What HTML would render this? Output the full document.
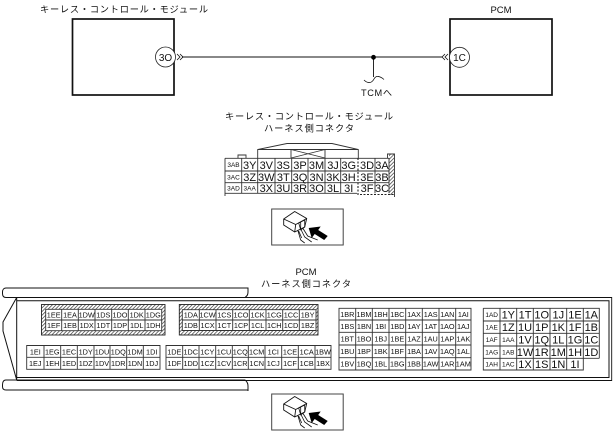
<!DOCTYPE html>
<html><head><meta charset="utf-8"><style>
html,body{margin:0;padding:0;background:#fff}
svg{display:block}
text{font-family:"Liberation Sans",sans-serif;fill:#111;text-anchor:middle}
.j{font-family:"Liberation Sans","Noto Sans CJK JP",sans-serif;font-size:9.2px}
.s{font-size:7.3px}
.t{font-size:6.5px}
.b{font-size:11px}
.m{font-size:10px}
.g{fill:none;stroke:#333;stroke-width:.9}
</style></head><body>
<svg width="613" height="436" viewBox="0 0 613 436" xmlns="http://www.w3.org/2000/svg">
<defs>
<pattern id="h" width="2.600" height="2.600" patternUnits="userSpaceOnUse" patternTransform="rotate(45)"><rect width="2.600" height="2.600" fill="#fff"/><rect width=".8" height="2.600" fill="#555"/></pattern>
<g id="ic">
<rect x="0" y="0" width="71.500" height="36" fill="#fff" stroke="#444" stroke-width="1"/>
<path d="M12 10L23 2.500L35 9.500L33 18L23 23L12 16Z M12 10L24 15.500L35 9.500 M24 15.500L23 23" fill="#fff" stroke="#111" stroke-width=".9"/>
<path d="M27 14L33 11L33 18L29 21Z M29 13V20 M26 21L29 31L33 34 M29 20L33 28L40 33 M31 19L36 27L46 31 M27 22L30 29" fill="none" stroke="#111" stroke-width=".8"/>
<path d="M37 19L49 17.500L46.500 21L56 27L52.500 31L43 25L40 29Z" fill="#000"/>
</g>
</defs>

<!-- top wiring -->
<rect x="72.500" y="19" width="101.500" height="76" fill="#fff" stroke="#111" stroke-width="1.700"/>
<rect x="450" y="19" width="102" height="76" fill="#fff" stroke="#111" stroke-width="1.700"/>
<path d="M182 57H442" stroke="#111" stroke-width=".9" fill="none"/>
<path d="M373.500 57V77" stroke="#111" stroke-width=".9" fill="none"/>
<circle cx="373.500" cy="57.300" r="2.400" fill="#000"/>
<path d="M364 80C368 84 372 83 374 79C376 75 380 76 384 79.500" fill="none" stroke="#111" stroke-width=".8"/>
<path d="M177 54L180 57L177 60M180 54L183 57L180 60" fill="none" stroke="#111" stroke-width=".8"/>
<path d="M445 54L442 57L445 60M448 54L445 57L448 60" fill="none" stroke="#111" stroke-width=".8"/>
<circle cx="165.500" cy="57" r="10" fill="#fff" stroke="#222" stroke-width=".8"/>
<circle cx="459.500" cy="57.300" r="10" fill="#fff" stroke="#222" stroke-width=".8"/>
<text x="165.500" y="61" class="m">3O</text>
<text x="459.500" y="61" class="m">1C</text>
<text x="124" y="12.500" class="j" textLength="168">キーレス・コントロール・モジュール</text>
<text x="501" y="13" style="font-size:9.500px">PCM</text>
<text x="376.500" y="96" class="j" textLength="31">TCMへ</text>

<!-- connector 1 -->
<text x="309" y="119.500" class="j" textLength="168">キーレス・コントロール・モジュール</text>
<text x="309" y="131.500" class="j" textLength="90">ハーネス側コネクタ</text>
<rect x="389" y="154" width="5" height="41" fill="url(#h)"/>
<path class="g" d="M225 158.300H389V193.300 M225 158.300V193.300 M225 171H389 M225 182.700H389 M225 193.300H357 M241.700 158.300V193.300 M257.700 158.300V193.300 M275 158.300V193.300 M291.700 158.300V193.300 M308 158.300V193.300 M325 158.300V193.300 M340.700 158.300V193.300 M375 158.300V193.300"/>
<path class="g" d="M238 158V155H246V158 M387.500 158V154H394.500V195 M225 193V196 M394.500 192V197 M257.700 158V149.500L287 143.500H332L358.300 149.500V158 M257.700 149.500H358.300 M291 149.500V158 M325 149.500V158 M291 149.500L325 158 M325 149.500L291 158"/>
<path d="M358 158V194.500H394" fill="none" stroke="#222" stroke-width="1.100" stroke-dasharray="2 1.500"/>
<g>
<text x="233.500" y="167" class="t">3AB</text><text x="249.700" y="168.800" class="b">3Y</text><text x="266.300" y="168.800" class="b">3V</text><text x="283.300" y="168.800" class="b">3S</text><text x="300" y="168.800" class="b">3P</text><text x="316.500" y="168.800" class="b">3M</text><text x="333" y="168.800" class="b">3J</text><text x="348.700" y="168.800" class="b">3G</text><text x="367" y="168.800" class="b">3D</text><text x="382" y="168.800" class="b">3A</text>
<text x="233.500" y="179.300" class="t">3AC</text><text x="249.700" y="181" class="b">3Z</text><text x="266.300" y="181" class="b">3W</text><text x="283.300" y="181" class="b">3T</text><text x="300" y="181" class="b">3Q</text><text x="316.500" y="181" class="b">3N</text><text x="333" y="181" class="b">3K</text><text x="348.700" y="181" class="b">3H</text><text x="367" y="181" class="b">3E</text><text x="382" y="181" class="b">3B</text>
<text x="233.500" y="190.500" class="t">3AD</text><text x="249.700" y="190.500" class="t">3AA</text><text x="266.300" y="192" class="b">3X</text><text x="283.300" y="192" class="b">3U</text><text x="300" y="192" class="b">3R</text><text x="316.500" y="192" class="b">3O</text><text x="333" y="192" class="b">3L</text><text x="348.700" y="192" class="b">3I</text><text x="367" y="192" class="b">3F</text><text x="382" y="192" class="b">3C</text>
</g>
<use href="#ic" x="271.700" y="209"/>

<!-- PCM -->
<text x="306" y="275" style="font-size:9.500px">PCM</text>
<text x="306" y="287" class="j" textLength="90">ハーネス側コネクタ</text>
<g fill="none" stroke="#111" stroke-width="1">
<path d="M248 287.500V292C248 295 247 296 245 297.500H6C3.500 297.500 2.500 296 2.500 293.500V292C2.500 290 3.500 288 6 288H248"/>
<path d="M248 391V386C248 383 247 381.500 245 380H6C3.500 380 2.500 382 2.500 385V386.500C2.500 388.500 3.500 390 6 390H248"/>
<path d="M16.700 297.500V380 M16.700 297.500L3 322V331L16.700 380"/>
<path d="M16.700 300.700H609V377.500H16.700"/>
<path d="M16.700 297.500H611.700V380.500H16.700" stroke-width=".9"/>
</g>

<!-- A -->
<rect x="41.500" y="304.500" width="123.500" height="30.500" fill="url(#h)" stroke="#222" stroke-width=".9"/>
<rect x="45.700" y="309.300" width="116" height="21.400" fill="#fff"/>
<path class="g" d="M45.700 309.300H161.700V330.700H45.700Z M45.700 320H161.700 M61.700 309.300V330.700 M78.300 309.300V330.700 M95 309.300V330.700 M111.700 309.300V330.700 M128.300 309.300V330.700 M145 309.300V330.700"/>
<text x="53.700" y="317.500" class="s">1EE</text><text x="70" y="317.500" class="s">1EA</text><text x="86.700" y="317.500" class="s">1DW</text><text x="103.300" y="317.500" class="s">1DS</text><text x="120" y="317.500" class="s">1DO</text><text x="136.700" y="317.500" class="s">1DK</text><text x="153.300" y="317.500" class="s">1DG</text>
<text x="53.700" y="328" class="s">1EF</text><text x="70" y="328" class="s">1EB</text><text x="86.700" y="328" class="s">1DX</text><text x="103.300" y="328" class="s">1DT</text><text x="120" y="328" class="s">1DP</text><text x="136.700" y="328" class="s">1DL</text><text x="153.300" y="328" class="s">1DH</text>

<!-- B -->
<rect x="179.300" y="304.500" width="138.700" height="30.500" fill="url(#h)" stroke="#222" stroke-width=".9"/>
<rect x="182.300" y="309.700" width="133.700" height="20.800" fill="#fff"/>
<path class="g" d="M182.300 309.700H316V330.500H182.300Z M182.300 320H316 M199.300 309.700V330.500 M216 309.700V330.500 M232.700 309.700V330.500 M249.300 309.700V330.500 M266 309.700V330.500 M282.700 309.700V330.500 M299.300 309.700V330.500"/>
<text x="190.800" y="317.500" class="s">1DA</text><text x="207.600" y="317.500" class="s">1CW</text><text x="224.300" y="317.500" class="s">1CS</text><text x="241" y="317.500" class="s">1CO</text><text x="257.600" y="317.500" class="s">1CK</text><text x="274.300" y="317.500" class="s">1CG</text><text x="291" y="317.500" class="s">1CC</text><text x="307.600" y="317.500" class="s">1BY</text>
<text x="190.800" y="328" class="s">1DB</text><text x="207.600" y="328" class="s">1CX</text><text x="224.300" y="328" class="s">1CT</text><text x="241" y="328" class="s">1CP</text><text x="257.600" y="328" class="s">1CL</text><text x="274.300" y="328" class="s">1CH</text><text x="291" y="328" class="s">1CD</text><text x="307.600" y="328" class="s">1BZ</text>

<!-- C -->
<path class="g" d="M26.700 345.500H160V369.300H26.700Z M26.700 357.300H160 M44 345.500V369.300 M60.700 345.500V369.300 M77.300 345.500V369.300 M94 345.500V369.300 M110 345.500V369.300 M126.700 345.500V369.300 M143.300 345.500V369.300"/>
<text x="35.300" y="354.300" class="s">1EI</text><text x="52.300" y="354.300" class="s">1EG</text><text x="69" y="354.300" class="s">1EC</text><text x="85.700" y="354.300" class="s">1DY</text><text x="102" y="354.300" class="s">1DU</text><text x="118.300" y="354.300" class="s">1DQ</text><text x="135" y="354.300" class="s">1DM</text><text x="151.700" y="354.300" class="s">1DI</text>
<text x="35.300" y="366" class="s">1EJ</text><text x="52.300" y="366" class="s">1EH</text><text x="69" y="366" class="s">1ED</text><text x="85.700" y="366" class="s">1DZ</text><text x="102" y="366" class="s">1DV</text><text x="118.300" y="366" class="s">1DR</text><text x="135" y="366" class="s">1DN</text><text x="151.700" y="366" class="s">1DJ</text>

<!-- D -->
<path class="g" d="M166 345.500H331V369.300H166Z M166 357.300H331 M182.700 345.500V369.300 M199 345.500V369.300 M215.700 345.500V369.300 M232.300 345.500V369.300 M248.300 345.500V369.300 M265 345.500V369.300 M281.700 345.500V369.300 M298.300 345.500V369.300 M315 345.500V369.300"/>
<text x="174.300" y="354.300" class="s">1DE</text><text x="190.800" y="354.300" class="s">1DC</text><text x="207.300" y="354.300" class="s">1CY</text><text x="224" y="354.300" class="s">1CU</text><text x="240.300" y="354.300" class="s">1CQ</text><text x="256.700" y="354.300" class="s">1CM</text><text x="273.300" y="354.300" class="s">1CI</text><text x="290" y="354.300" class="s">1CE</text><text x="306.700" y="354.300" class="s">1CA</text><text x="323" y="354.300" class="s">1BW</text>
<text x="174.300" y="366" class="s">1DF</text><text x="190.800" y="366" class="s">1DD</text><text x="207.300" y="366" class="s">1CZ</text><text x="224" y="366" class="s">1CV</text><text x="240.300" y="366" class="s">1CR</text><text x="256.700" y="366" class="s">1CN</text><text x="273.300" y="366" class="s">1CJ</text><text x="290" y="366" class="s">1CF</text><text x="306.700" y="366" class="s">1CB</text><text x="323" y="366" class="s">1BX</text>

<!-- E -->
<path class="g" d="M339 308.300H471V370H339Z M339 320H471 M339 332.300H471 M339 345H471 M339 357.700H471 M355.700 308.300V370 M372.300 308.300V370 M389 308.300V370 M405.700 308.300V370 M422.300 308.300V370 M439 308.300V370 M455.700 308.300V370"/>
<text x="347.300" y="317" class="s">1BR</text><text x="364" y="317" class="s">1BM</text><text x="380.700" y="317" class="s">1BH</text><text x="397.300" y="317" class="s">1BC</text><text x="414" y="317" class="s">1AX</text><text x="430.700" y="317" class="s">1AS</text><text x="447.300" y="317" class="s">1AN</text><text x="463.300" y="317" class="s">1AI</text>
<text x="347.300" y="329" class="s">1BS</text><text x="364" y="329" class="s">1BN</text><text x="380.700" y="329" class="s">1BI</text><text x="397.300" y="329" class="s">1BD</text><text x="414" y="329" class="s">1AY</text><text x="430.700" y="329" class="s">1AT</text><text x="447.300" y="329" class="s">1AO</text><text x="463.300" y="329" class="s">1AJ</text>
<text x="347.300" y="341.500" class="s">1BT</text><text x="364" y="341.500" class="s">1BO</text><text x="380.700" y="341.500" class="s">1BJ</text><text x="397.300" y="341.500" class="s">1BE</text><text x="414" y="341.500" class="s">1AZ</text><text x="430.700" y="341.500" class="s">1AU</text><text x="447.300" y="341.500" class="s">1AP</text><text x="463.300" y="341.500" class="s">1AK</text>
<text x="347.300" y="354" class="s">1BU</text><text x="364" y="354" class="s">1BP</text><text x="380.700" y="354" class="s">1BK</text><text x="397.300" y="354" class="s">1BF</text><text x="414" y="354" class="s">1BA</text><text x="430.700" y="354" class="s">1AV</text><text x="447.300" y="354" class="s">1AQ</text><text x="463.300" y="354" class="s">1AL</text>
<text x="347.300" y="366.500" class="s">1BV</text><text x="364" y="366.500" class="s">1BQ</text><text x="380.700" y="366.500" class="s">1BL</text><text x="397.300" y="366.500" class="s">1BG</text><text x="414" y="366.500" class="s">1BB</text><text x="430.700" y="366.500" class="s">1AW</text><text x="447.300" y="366.500" class="s">1AR</text><text x="463.300" y="366.500" class="s">1AM</text>

<!-- F -->
<path class="g" d="M483.300 308.300H599.300V358.300 M483.300 308.300V370H583.300V308.300 M483.300 321H599.300 M483.300 333.300H599.300 M483.300 346H599.300 M483.300 358.300H599.300 M500 308.300V370 M516.700 308.300V370 M533.300 308.300V370 M550 308.300V370 M566.700 308.300V370"/>
<text x="491.700" y="317" class="t">1AD</text><text x="508.300" y="318.500" class="b">1Y</text><text x="525" y="318.500" class="b">1T</text><text x="541.700" y="318.500" class="b">1O</text><text x="558.300" y="318.500" class="b">1J</text><text x="575" y="318.500" class="b">1E</text><text x="591.300" y="318.500" class="b">1A</text>
<text x="491.700" y="329.500" class="t">1AE</text><text x="508.300" y="331" class="b">1Z</text><text x="525" y="331" class="b">1U</text><text x="541.700" y="331" class="b">1P</text><text x="558.300" y="331" class="b">1K</text><text x="575" y="331" class="b">1F</text><text x="591.300" y="331" class="b">1B</text>
<text x="491.700" y="342" class="t">1AF</text><text x="508.300" y="342" class="t">1AA</text><text x="525" y="343.700" class="b">1V</text><text x="541.700" y="343.700" class="b">1Q</text><text x="558.300" y="343.700" class="b">1L</text><text x="575" y="343.700" class="b">1G</text><text x="591.300" y="343.700" class="b">1C</text>
<text x="491.700" y="354.500" class="t">1AG</text><text x="508.300" y="354.500" class="t">1AB</text><text x="525" y="356" class="b">1W</text><text x="541.700" y="356" class="b">1R</text><text x="558.300" y="356" class="b">1M</text><text x="575" y="356" class="b">1H</text><text x="591.300" y="356" class="b">1D</text>
<text x="491.700" y="366.500" class="t">1AH</text><text x="508.300" y="366.500" class="t">1AC</text><text x="525" y="368" class="b">1X</text><text x="541.700" y="368" class="b">1S</text><text x="558.300" y="368" class="b">1N</text><text x="575" y="368" class="b">1I</text>

<use href="#ic" x="271.700" y="394"/>
</svg>
</body></html>
